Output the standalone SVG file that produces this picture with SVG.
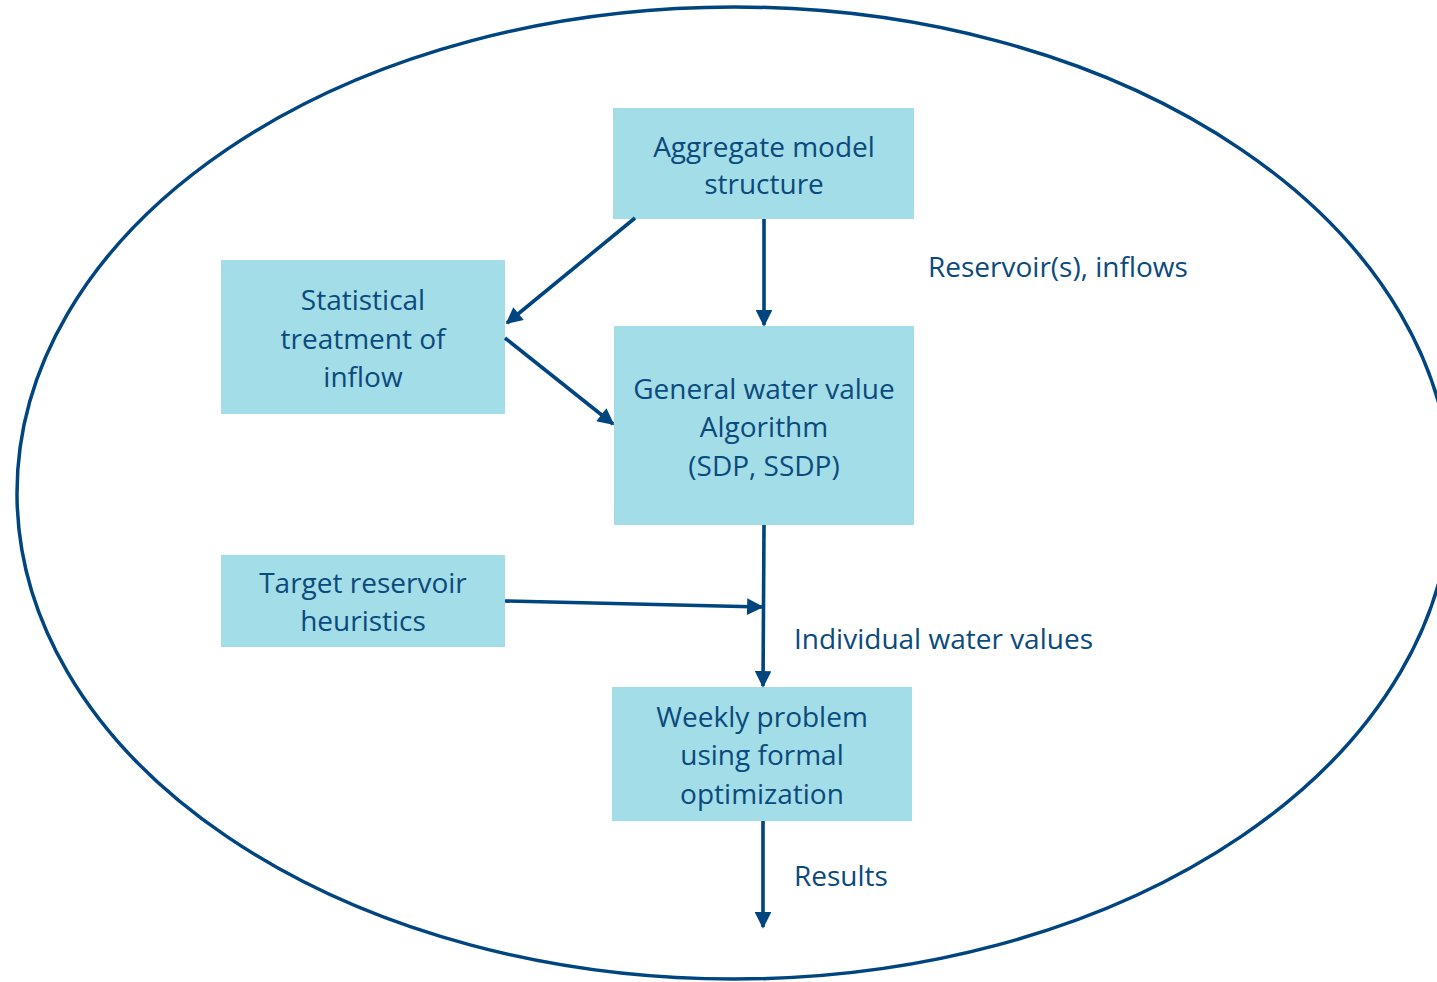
<svg xmlns="http://www.w3.org/2000/svg" width="1437" height="982" viewBox="0 0 1437 982">
<style>
.box{fill:#a3dde8;}
.t{font-family:"Open Sans","Noto Sans",sans-serif;font-size:28px;fill:#0b4a7c;text-anchor:middle;}
.l{font-family:"Open Sans","Noto Sans",sans-serif;font-size:28px;fill:#0b4a7c;}
.c{stroke:#00457f;stroke-width:3.6;fill:none;marker-end:url(#ah);}
</style>
<defs>
<marker id="ah" viewBox="0 0 10 10" refX="9" refY="5" markerWidth="5" markerHeight="4.6" orient="auto" markerUnits="strokeWidth">
<path d="M0,0 L10,5 L0,10 z" fill="#00457f"/>
</marker>
</defs>
<rect width="1437" height="982" fill="#ffffff"/>
<ellipse cx="734" cy="493" rx="717" ry="486" fill="none" stroke="#00457f" stroke-width="3.5"/>
<g id="n-aggregate">
<rect class="box" x="613" y="108" width="301" height="111"/>
<text class="t" x="764" y="157">Aggregate model</text>
<text class="t" x="764" y="194">structure</text>
</g>
<g id="n-statistical">
<rect class="box" x="221" y="260" width="284" height="154"/>
<text class="t" x="363" y="310">Statistical</text>
<text class="t" x="363" y="349">treatment of</text>
<text class="t" x="363" y="387">inflow</text>
</g>
<g id="n-general">
<rect class="box" x="614" y="326" width="300" height="199"/>
<text class="t" x="764" y="399">General water value</text>
<text class="t" x="764" y="437">Algorithm</text>
<text class="t" x="764" y="476">(SDP, SSDP)</text>
</g>
<g id="n-target">
<rect class="box" x="221" y="555" width="284" height="92"/>
<text class="t" x="363" y="593">Target reservoir</text>
<text class="t" x="363" y="631">heuristics</text>
</g>
<g id="n-weekly">
<rect class="box" x="612" y="687" width="300" height="134"/>
<text class="t" x="762" y="727">Weekly problem</text>
<text class="t" x="762" y="765">using formal</text>
<text class="t" x="762" y="804">optimization</text>
</g>
<g id="connectors">
<line class="c" x1="635" y1="218" x2="507" y2="323"/>
<line class="c" x1="764" y1="219" x2="764" y2="325"/>
<line class="c" x1="505" y1="338" x2="613" y2="424"/>
<line class="c" x1="764" y1="525" x2="763" y2="686"/>
<line class="c" x1="505" y1="601" x2="762" y2="607"/>
<line class="c" x1="763" y1="821" x2="763" y2="927"/>
</g>
<g id="labels">
<text class="l" x="928" y="277">Reservoir(s), inflows</text>
<text class="l" x="794" y="649">Individual water values</text>
<text class="l" x="794" y="886">Results</text>
</g>
</svg>
